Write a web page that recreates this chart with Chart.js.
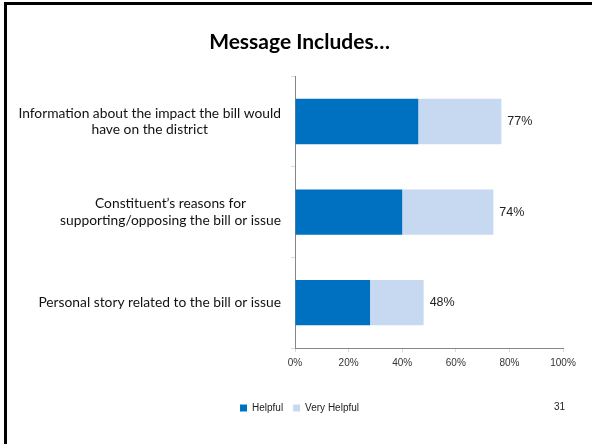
<!DOCTYPE html>
<html>
<head>
<meta charset="utf-8">
<script src="https://cdn.jsdelivr.net/npm/chart.js@4"></script>
<style>
  html, body { margin: 0; padding: 0; background: #fff; }
  #slide { position: relative; width: 592px; height: 444px; overflow: hidden; }
  #slide canvas { position: absolute; left: 0; top: 0; }
  #frameTop { position: absolute; left: 4px; top: 2px; right: 0; height: 3px; background: #000; }
  #frameLeft { position: absolute; left: 4px; top: 2px; width: 3px; bottom: 0; background: #000; }
  #pageNum { position: absolute; left: 554px; top: 401px; font: 10px "Liberation Sans", Arial, sans-serif; color: #222; }
</style>
</head>
<body>
<div id="slide">
  <canvas id="myChart" width="592" height="444"></canvas>
  <div id="frameTop"></div>
  <div id="frameLeft"></div>
  <div id="pageNum">31</div>
</div>
<script>
const categories = [
  ['Information about the impact the bill would', 'have on the district'],
  ['Constituent\u2019s reasons for', 'supporting/opposing the bill or issue'],
  ['Personal story related to the bill or issue']
];
const helpful = [46, 40, 28];
const veryHelpful = [31, 34, 20];
const xTicks = [0, 20, 40, 60, 80, 100];

const labelFont = '13.8px Lato';
const lineGap = 16.5;

// category names: each block right-aligned to the axis, lines centred inside the block
const categoryLabels = {
  id: 'categoryLabels',
  afterDraw(chart) {
    const { ctx, scales: { y } } = chart;
    ctx.save();
    ctx.font = labelFont;
    ctx.fillStyle = '#111';
    ctx.textAlign = 'center';
    ctx.textBaseline = 'middle';
    const right = y.right - 14;
    categories.forEach((lines, i) => {
      const w = Math.max(...lines.map(l => ctx.measureText(l).width));
      const cx = right - w / 2;
      const yc = y.getPixelForValue(i);
      lines.forEach((line, j) => {
        ctx.fillText(line, cx, yc + (j - (lines.length - 1) / 2) * lineGap);
      });
    });
    ctx.restore();
  }
};

// total percentage at the end of each stacked bar
const totalLabels = {
  id: 'totalLabels',
  afterDatasetsDraw(chart) {
    const { ctx } = chart;
    const meta = chart.getDatasetMeta(1);
    ctx.save();
    ctx.font = '12.5px "Liberation Sans", Arial, sans-serif';
    ctx.fillStyle = '#222';
    ctx.textAlign = 'left';
    ctx.textBaseline = 'middle';
    meta.data.forEach((bar, i) => {
      ctx.fillText((helpful[i] + veryHelpful[i]) + '%', bar.x + 6, bar.y);
    });
    ctx.restore();
  }
};

function drawChart() {
  const ctx = document.getElementById('myChart').getContext('2d');
  new Chart(ctx, {
    type: 'bar',
    data: {
      labels: categories,
      datasets: [
        { label: 'Helpful', data: helpful, backgroundColor: '#0070C0', borderWidth: 0 },
        { label: 'Very Helpful', data: veryHelpful, backgroundColor: '#C6D9F0', borderWidth: 0 }
      ]
    },
    options: {
      indexAxis: 'y',
      responsive: false,
      animation: false,
      devicePixelRatio: 1,
      barPercentage: 0.5,
      categoryPercentage: 1.0,
      layout: { padding: { left: 36, right: 29, top: 0, bottom: 21 } },
      plugins: {
        title: {
          display: true,
          text: 'Message Includes\u2026',
          color: '#000',
          font: { family: 'Lato', size: 21, weight: 'bold' },
          padding: { top: 30, bottom: 21 }
        },
        legend: {
          position: 'bottom',
          labels: {
            boxWidth: 7,
            boxHeight: 7,
            padding: 10,
            color: '#222',
            font: { family: '"Liberation Sans", Arial, sans-serif', size: 10 }
          }
        },
        tooltip: { enabled: false }
      },
      scales: {
        x: {
          stacked: true,
          min: 0,
          max: 100,
          afterBuildTicks: scale => { scale.ticks = xTicks.map(v => ({ value: v })); },
          afterFit: scale => { scale.height += 19; },
          ticks: {
            callback: v => v + '%',
            color: '#333',
            padding: 5,
            maxRotation: 0,
            font: { family: '"Liberation Sans", Arial, sans-serif', size: 10 }
          },
          grid: { drawOnChartArea: false, tickLength: 4, color: '#d9d9d9' },
          border: { color: '#868686', width: 1 }
        },
        y: {
          stacked: true,
          afterFit: scale => { scale.width = 259; },
          ticks: { display: false },
          grid: { drawOnChartArea: false, tickLength: 4, color: '#d9d9d9', offset: true },
          border: { color: '#868686', width: 1 }
        }
      }
    },
    plugins: [categoryLabels, totalLabels]
  });
}

document.fonts.load('bold 21px Lato').then(() => document.fonts.load(labelFont)).then(drawChart, drawChart);
</script>
</body>
</html>
